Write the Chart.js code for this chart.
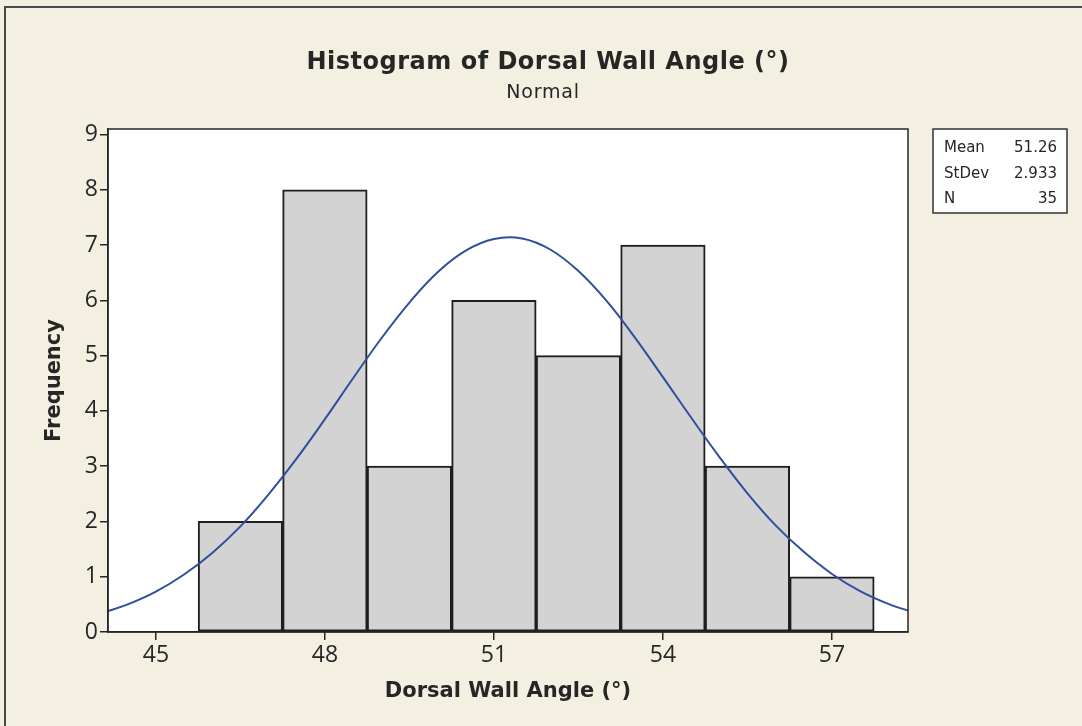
<!DOCTYPE html>
<html>
<head>
<meta charset="utf-8">
<title>Histogram of Dorsal Wall Angle</title>
<script src="https://cdn.jsdelivr.net/npm/chart.js@4.4.1/dist/chart.umd.min.js"></script>
<style>
    html, body { margin: 0; padding: 0; background: #f4f0e1; }
    canvas { display: block; }
</style>
</head>
<body>
<canvas id="chart-hist" width="1082" height="726"></canvas>
<script>
( function () {
    'use strict';

    // histogram bins (width 1.5) and counts
    var binCenters = [ 46.5, 48, 49.5, 51, 52.5, 54, 55.5, 57 ];
    var binCounts  = [ 2, 8, 3, 6, 5, 7, 3, 1 ];

    // fitted normal curve
    var curveX = [ 44, 44.5, 45, 45.5, 46, 46.5, 47, 47.5, 48, 48.5, 49, 49.5, 50, 50.5, 51,
                   51.5, 52, 52.5, 53, 53.5, 54, 54.5, 55, 55.5, 56, 56.5, 57, 57.5, 58, 58.5 ];
    var curveY = [ 0.33, 0.50, 0.73, 1.04, 1.43, 1.91, 2.49, 3.14, 3.85, 4.59, 5.31, 5.96, 6.51, 6.90, 7.11,
                   7.12, 6.92, 6.53, 5.99, 5.33, 4.61, 3.88, 3.17, 2.51, 1.93, 1.45, 1.05, 0.74, 0.51, 0.34 ];

    var xTicks = [ 45, 48, 51, 54, 57 ];
    var yTicks = [ 0, 1, 2, 3, 4, 5, 6, 7, 8, 9 ];

    var statLabels = [ 'Mean', 'StDev', 'N' ];
    var statValues = [ '51.26', '2.933', '35' ];

    var titleText    = 'Histogram of Dorsal Wall Angle (°)';
    var subtitleText = 'Normal';
    var xTitle       = 'Dorsal Wall Angle (°)';
    var yTitle       = 'Frequency';

    var ink       = '#262626';
    var titleFont = '"DejaVu Sans", Verdana, sans-serif';
    var tickFont  = '"Open Sans", "Noto Sans", sans-serif';

    var axisStyle = {
        grid:   { drawOnChartArea: false, drawTicks: true, tickLength: 8, color: ink, lineWidth: 1.5 },
        border: { display: true, color: ink, width: 1.5 },
        ticks:  { font: { family: tickFont, size: 23 }, color: ink, padding: 2 },
        title:  { display: true, font: { family: titleFont, size: 21, weight: 'bold' }, color: ink },
    };

    /* ── page decorations: background, plot box, titles, stats box ───────── */
    var frame = {
        id: 'frame',
        beforeDraw: function ( chart ) {
            var ctx = chart.ctx, a = chart.chartArea;
            ctx.save();
            ctx.fillStyle = '#f4f0e1';
            ctx.fillRect( 0, 0, chart.width, chart.height );
            ctx.strokeStyle = '#4a4a4a';
            ctx.lineWidth = 2;
            ctx.beginPath();
            ctx.moveTo( 5, chart.height );
            ctx.lineTo( 5, 7 );
            ctx.lineTo( chart.width, 7 );
            ctx.stroke();
            ctx.fillStyle = '#ffffff';
            ctx.fillRect( a.left, a.top, a.right - a.left, a.bottom - a.top );
            ctx.restore();
        },
        afterDraw: function ( chart ) {
            var ctx = chart.ctx, a = chart.chartArea;
            ctx.save();
            ctx.strokeStyle = ink;
            ctx.lineWidth = 1.5;
            ctx.strokeRect( a.left, a.top, a.right - a.left, a.bottom - a.top );

            ctx.fillStyle = ink;
            ctx.textAlign = 'center';
            ctx.textBaseline = 'alphabetic';
            ctx.font = 'bold 24px ' + titleFont;
            ctx.letterSpacing = '0.5px';
            ctx.fillText( titleText, 548, 69 );
            ctx.font = '19px ' + titleFont;
            ctx.letterSpacing = '0.8px';
            ctx.fillText( subtitleText, 543, 98 );
            ctx.letterSpacing = '0px';

            // stats box
            ctx.fillStyle = '#ffffff';
            ctx.fillRect( 933, 129, 134, 84 );
            ctx.strokeStyle = '#333';
            ctx.lineWidth = 1.5;
            ctx.strokeRect( 933, 129, 134, 84 );
            ctx.fillStyle = ink;
            ctx.font = '15px ' + titleFont;
            statLabels.forEach( function ( lbl, i ) {
                var y = 152 + i * 25.5;
                ctx.textAlign = 'left';
                ctx.fillText( lbl, 944, y );
                ctx.textAlign = 'right';
                ctx.fillText( statValues[ i ], 1057, y );
            } );
            ctx.restore();
        },
    };

    var barPoints = binCenters.map( function ( x, i ) { return { x: x, y: binCounts[ i ] }; } );
    var curvePoints = curveX.map( function ( x, i ) { return { x: x, y: curveY[ i ] }; } );

    new Chart( document.getElementById( 'chart-hist' ), {
        type: 'bar',
        data: {
            datasets: [ {
                type:            'line',
                label:           'Normal fit',
                data:            curvePoints,
                borderColor:     '#2f4f9c',
                borderWidth:     2,
                pointRadius:     0,
                tension:         0.4,
                fill:            false,
                order:           0,
            }, {
                label:              'Frequency',
                data:               barPoints,
                backgroundColor:    '#d3d3d4',
                borderColor:        '#1e1e1e',
                borderWidth:        2,
                borderSkipped:      false,
                barPercentage:      1,
                categoryPercentage: 1,
                order:              1,
            } ],
        },
        options: {
            responsive: false,
            animation:  false,
            layout: { padding: { left: 36, top: 129, right: 174, bottom: 18 } },
            plugins: {
                legend:  { display: false },
                tooltip: { enabled: false },
            },
            scales: {
                x: {
                    ...axisStyle,
                    type:   'linear',
                    offset: false,
                    min:    44.15,
                    max:    58.35,
                    grid:   { ...axisStyle.grid, offset: false },
                    title:  { ...axisStyle.title, text: xTitle, padding: { top: 0, bottom: 4 } },
                    afterBuildTicks: function ( scale ) {
                        scale.ticks = xTicks.map( function ( v ) { return { value: v }; } );
                    },
                    afterFit: function ( scale ) { scale.height = 76; },
                },
                y: {
                    ...axisStyle,
                    min: 0,
                    max: 9.1,
                    title: { ...axisStyle.title, text: yTitle, padding: { top: 6, bottom: 0 } },
                    afterBuildTicks: function ( scale ) {
                        scale.ticks = yTicks.map( function ( v ) { return { value: v }; } );
                    },
                    afterFit: function ( scale ) { scale.width = 72; },
                },
            },
        },
        plugins: [ frame ],
    } );

} )();
</script>
</body>
</html>
